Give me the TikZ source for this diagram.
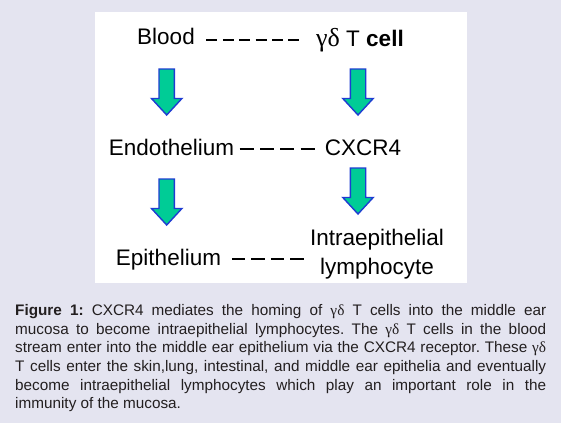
\documentclass[tikz,border=0pt]{standalone}
\usepackage{fontspec}
\setmainfont{Liberation Sans}
\newfontfamily\grk{Liberation Serif}
\usetikzlibrary{calc}

\definecolor{pagebg}{RGB}{228,228,240}
\definecolor{arrowgreen}{RGB}{0,204,150}
\definecolor{arrowblue}{RGB}{30,60,210}
\definecolor{captext}{RGB}{35,31,32}

\tikzset{
	lbl/.style={anchor=base, inner sep=0pt, font=\fontsize{22.5}{27}\selectfont},
	dashrule/.style={line width=2pt},
	blockarr/.pic={
		\draw[line width=1.4pt, draw=arrowblue, fill=arrowgreen, line join=miter]
			(-7.7,0) -- (7.7,0) -- (7.7,29.5) -- (15.2,29.5) -- (0,46) -- (-15.2,29.5) -- (-7.7,29.5) -- cycle;
	}
}

\begin{document}
\begin{tikzpicture}[x=1pt,y=-1pt]
	
	% page and panel
	\fill[pagebg] (0,0) rectangle (561,423);
	\fill[white] (95,12) rectangle (467,283);
	
	% left column
	\node[lbl] (blood) at (166,44) {Blood};
	\node[lbl] (endo) at (171.5,155) {Endothelium};
	\node[lbl] (epi) at (168.5,265.7) {Epithelium};
	
	% right column
	\node[lbl] (gdt) at (360,46) {{\grk\fontsize{26}{27}\selectfont γδ} T \textbf{cell}};
	\node[lbl] (cxcr) at (363,155) {CXCR4};
	\node[lbl, align=center, font=\fontsize{22.5}{29}\selectfont] (iel) at (377,274) {Intraepithelial\\lymphocyte};
	
	% dashed links
	\coordinate (d1) at ($(blood.base east)+(11.5,-4.5)$);
	\draw[dashrule, dash pattern=on 11pt off 5.4pt, shorten >=13pt] (d1) -- (d1 -| gdt.base west);
	
	\coordinate (d2) at ($(endo.base east)+(5.5,-6)$);
	\draw[dashrule, dash pattern=on 14pt off 6.3pt, shorten >=9pt] (d2) -- (d2 -| cxcr.base west);
	
	\coordinate (d3) at ($(epi.base east)+(10.6,-6.7)$);
	\draw[dashrule, dash pattern=on 13.5pt off 6pt, shorten >=6pt] (d3) -- (d3 -| iel.west);
	
	% block arrows
	\pic at ($(blood.base)+(0.7,25)$) {blockarr};
	\pic at ($(endo.base)+(-4.8,24)$) {blockarr};
	\pic at ($(gdt.base)+(-2,23)$) {blockarr};
	\pic at ($(cxcr.base)+(-5,13)$) {blockarr};
	
	% caption
	\node[anchor=north west, inner sep=0pt, text width=531pt, align=justify, text=captext,
		font=\fontsize{15.3}{18.6}\selectfont] (caption) at (15,304.5)
		{\frenchspacing\tolerance=10000
		\textbf{Figure 1:} CXCR4 mediates the homing of {\grk γδ} T cells into the middle ear\linebreak
		mucosa to become intraepithelial lymphocytes. The {\grk γδ} T cells in the blood\linebreak
		stream enter into the middle ear epithelium via the CXCR4 receptor. These {\grk γδ}\linebreak
		T cells enter the skin,lung, intestinal, and middle ear epithelia and eventually\linebreak
		become intraepithelial lymphocytes which play an important role in the\linebreak
		immunity of the mucosa.};
	
\end{tikzpicture}
\end{document}
